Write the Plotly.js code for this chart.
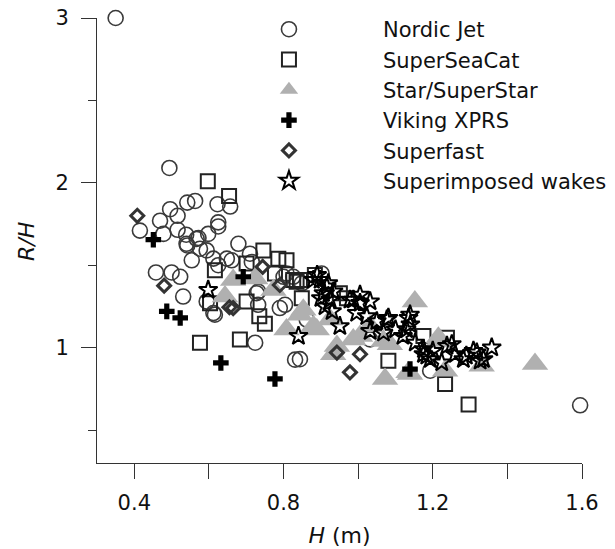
<!DOCTYPE html>
<html>
<head>
<meta charset="utf-8">
<script src="https://cdn.plot.ly/plotly-3.0.1.min.js"></script>
<style>html,body{margin:0;padding:0;background:#fff;}#chart{width:615px;height:549px;}</style>
</head>
<body>
<div id="chart"></div>
<script>
// Nordic Jet (open circles)
const nordicH  = [0.35,0.494,0.542,0.563,0.623,0.496,0.516,0.469,0.625,0.415,0.478,0.516,0.539,0.598,0.567,0.542,0.576,0.594,0.554,0.612,0.625,0.458,0.50,0.523,0.648,0.531,0.612,0.594,0.679,0.657,0.54,0.661,0.715,0.71,0.732,0.804,0.826,0.808,0.732,0.79,0.616,0.724,0.831,0.902,1.032,1.193,1.595,0.625,0.80,0.728,0.849,0.862,0.844,0.572];
const nordicRH = [3.00,2.09,1.88,1.89,1.87,1.84,1.80,1.77,1.76,1.71,1.69,1.715,1.685,1.69,1.66,1.62,1.60,1.59,1.53,1.54,1.50,1.456,1.456,1.43,1.54,1.31,1.21,1.28,1.63,1.856,1.63,1.53,1.52,1.57,1.26,1.26,1.43,1.45,1.34,1.24,1.20,1.03,0.927,1.45,1.05,0.86,0.65,1.735,1.43,1.33,1.39,1.17,0.93,1.665];
// SuperSeaCat (open squares)
const seacatH  = [0.597,0.654,0.616,0.603,0.576,0.683,0.746,0.786,0.701,0.777,0.826,0.849,0.701,0.735,0.75,0.884,0.951,0.97,1.081,1.175,1.238,1.233,1.296,0.808,0.835,0.844];
const seacatRH = [2.01,1.92,1.47,1.27,1.03,1.05,1.59,1.54,1.51,1.45,1.41,1.30,1.28,1.19,1.145,1.44,1.33,1.30,0.92,1.07,1.06,0.78,0.655,1.53,1.40,1.41];
// Star/SuperStar (grey triangles)
const starH  = [0.665,0.724,0.643,0.773,0.808,0.844,0.889,1.152,0.853,0.943,1.005,1.068,1.135,1.072,0.88,1.215,1.474,1.233,1.331,0.933,0.925,0.987,1.085,1.032,1.139,1.215];
const starRH = [1.41,1.42,1.31,1.35,1.11,1.20,1.11,1.28,1.23,1.01,1.07,1.04,0.85,0.81,1.13,1.06,0.90,0.86,0.89,0.96,1.17,1.05,1.02,1.13,0.84,1.04];
// Viking XPRS (black crosses)
const vikingH  = [0.451,0.487,0.523,0.632,0.777,1.139,0.692];
const vikingRH = [1.655,1.22,1.18,0.907,0.81,0.87,1.43];
// Superfast (open diamonds)
const fastH  = [0.408,0.48,0.744,0.79,0.665,0.655,0.943,1.005,0.978];
const fastRH = [1.80,1.376,1.49,1.38,1.24,1.245,0.97,0.96,0.85];
// Superimposed wakes (open stars)
const wakeH  = [0.598,0.84,0.898,0.916,0.907,0.925,0.911,0.934,0.978,1.005,1.032,0.996,1.023,1.05,1.077,0.951,1.032,1.068,1.10,1.135,1.14,1.12,1.153,1.175,1.251,1.309,1.358,1.282,1.224,1.327,1.184,0.88,0.987,1.13,1.175,1.318,1.336,0.89,0.92,0.90,0.93,1.20,1.26,1.29,1.005,1.081,1.139,1.238,1.193];
const wakeRH = [1.35,1.07,1.41,1.37,1.33,1.29,1.25,1.34,1.29,1.27,1.28,1.21,1.19,1.16,1.17,1.13,1.10,1.09,1.11,1.18,1.14,1.07,1.03,0.96,1.02,0.98,1.00,0.93,0.91,0.92,0.95,1.41,1.29,1.11,0.99,0.97,0.93,1.44,1.39,1.30,1.22,0.98,0.96,0.95,1.32,1.18,1.20,1.01,0.93];

const xTicks = [0.4,0.6,0.8,1.0,1.2,1.4,1.6];
const xTickText = ['0.4','','0.8','','1.2','','1.6'];
const yTicks = [1,2,3];
const yMinorTicks = [0.5,1.5,2.5];

const FONT = 'DejaVu Sans, Arial, sans-serif';

const traces = [
  {x: nordicH, y: nordicRH, name: 'Nordic Jet', type: 'scatter', mode: 'markers', cliponaxis: false,
   marker: {symbol: 'circle-open', size: 15, color: '#3a3a3a', line: {width: 1.6, color: '#3a3a3a'}}},
  {x: seacatH, y: seacatRH, name: 'SuperSeaCat', type: 'scatter', mode: 'markers', cliponaxis: false,
   marker: {symbol: 'square-open', size: 14, color: '#222', line: {width: 2, color: '#222'}}},
  {x: starH, y: starRH, name: 'Star/SuperStar', type: 'scatter', mode: 'markers', cliponaxis: false,
   marker: {symbol: 'triangle-up', size: 23, color: '#b0b0b0', line: {width: 0}}},
  {x: vikingH, y: vikingRH, name: 'Viking XPRS', type: 'scatter', mode: 'markers', cliponaxis: false,
   marker: {symbol: 'cross', size: 13, color: '#000', line: {width: 0}}},
  {x: fastH, y: fastRH, name: 'Superfast', type: 'scatter', mode: 'markers', cliponaxis: false,
   marker: {symbol: 'diamond-open', size: 10, color: '#333', line: {width: 3, color: '#333'}}},
  {x: wakeH, y: wakeRH, name: 'Superimposed wakes', type: 'scatter', mode: 'markers', cliponaxis: false,
   marker: {symbol: 'star-open', size: 14, color: '#000', line: {width: 2, color: '#000'}}}
];

const layout = {
  width: 615, height: 549,
  margin: {l: 97, r: 33, t: 18, b: 86, autoexpand: false},
  paper_bgcolor: '#fff', plot_bgcolor: '#fff',
  font: {family: FONT, size: 21, color: '#111'},
  showlegend: true,
  legend: {xref: 'container', yref: 'container', x: 0.317, y: 0.9835, xanchor: 'left', yanchor: 'top',
           bgcolor: 'rgba(0,0,0,0)',
           font: {family: FONT, size: 21, color: '#111'}, itemwidth: 178, tracegroupgap: 0},
  xaxis: {range: [0.3, 1.6], showgrid: false, zeroline: false, showline: true, linecolor: '#333', linewidth: 1,
          ticks: 'outside', ticklen: 15, tickcolor: '#333', tickmode: 'array', tickvals: xTicks, ticktext: xTickText,
          ticklabelstandoff: 6,
          title: {text: '<i>H</i> (m)', font: {family: FONT, size: 22, color: '#111'}, standoff: 13}},
  yaxis: {range: [0.3, 3.0], showgrid: false, zeroline: false, showline: true, linecolor: '#333', linewidth: 1,
          ticks: 'outside', ticklen: 15, tickcolor: '#333', tickmode: 'array', tickvals: yTicks,
          ticklabelstandoff: 8,
          minor: {tickvals: yMinorTicks, ticks: 'outside', ticklen: 8, tickcolor: '#333', showgrid: false},
          title: {text: ''}},
  annotations: [
    {text: '<i>R/H</i>', xref: 'paper', yref: 'paper', x: -0.144, y: 0.497, xanchor: 'center', yanchor: 'middle',
     textangle: -90, showarrow: false, font: {family: FONT, size: 22, color: '#111'}}
  ]
};

Plotly.newPlot('chart', traces, layout, {staticPlot: true, displayModeBar: false});
</script>
</body>
</html>
